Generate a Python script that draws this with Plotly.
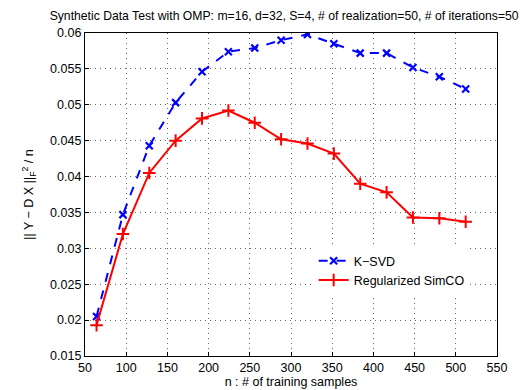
import plotly.graph_objects as go

n_samples = [64, 96, 128, 160, 192, 224, 256, 288, 320, 352, 384, 416, 448, 480, 512]
ksvd = [0.0205, 0.0347, 0.0443, 0.0503, 0.0546, 0.0574, 0.0579, 0.0590, 0.0598,
        0.0585, 0.0572, 0.0572, 0.0552, 0.0539, 0.0522]
simco = [0.0193, 0.0320, 0.0405, 0.0450, 0.0481, 0.0492, 0.0475, 0.0452, 0.0446,
         0.0432, 0.0390, 0.0378, 0.0343, 0.0342, 0.0337]
x_ticks = [50, 100, 150, 200, 250, 300, 350, 400, 450, 500, 550]
y_ticks = [0.015, 0.02, 0.025, 0.03, 0.035, 0.04, 0.045, 0.05, 0.055, 0.06]
y_ticktext = ["0.015", "0.02", "0.025", "0.03", "0.035", "0.04", "0.045", "0.05", "0.055", "0.06"]

FS = 12.5

fig = go.Figure()
fig.add_trace(go.Scatter(
    x=n_samples, y=ksvd, name="K\u2212SVD", mode="lines+markers",
    line=dict(color="#0000ff", width=2, dash="dash"),
    marker=dict(symbol="x-thin", size=7, line=dict(color="#0000ff", width=2.2)),
))
fig.add_trace(go.Scatter(
    x=n_samples, y=simco, name="Regularized SimCO", mode="lines+markers",
    line=dict(color="#ff0000", width=2),
    marker=dict(symbol="cross-thin", size=9, line=dict(color="#ff0000", width=2)),
))

axis_common = dict(
    showline=True, linecolor="black", linewidth=1.2, mirror=True,
    ticks="inside", ticklen=4, tickcolor="black",
    showgrid=True, gridcolor="#666666", griddash="1px,4px", gridwidth=1,
    zeroline=False, tickfont=dict(size=FS, color="black"),
)
fig.update_xaxes(range=[50, 550], tickvals=x_ticks,
                 title=dict(text="n : # of training samples", font=dict(size=FS, color="black"), standoff=2),
                 **axis_common)
fig.update_yaxes(range=[0.015, 0.06], tickvals=y_ticks, ticktext=y_ticktext,
                 title=dict(text="|| Y \u2212 D X ||<sub>F</sub><sup>2</sup> / n", font=dict(size=FS, color="black"), standoff=13),
                 **axis_common)

fig.update_layout(
    width=531, height=390,
    margin=dict(l=77, r=42, t=25, b=38),
    paper_bgcolor="white", plot_bgcolor="white",
    font=dict(family="Liberation Sans, Arial, sans-serif", size=FS, color="black"),
    title=dict(text="Synthetic Data Test with OMP: m=16, d=32, S=4, # of realization=50, # of iterations=50",
               xref="container", x=0.52, xanchor="center", y=0.99, yanchor="top",
               font=dict(size=12.2, color="black")),
    showlegend=True,
    legend=dict(x=0.555, y=0.34, xanchor="left", yanchor="top", bgcolor="white",
                borderwidth=0, font=dict(size=FS, color="black"), tracegroupgap=0),
)

fig.write_html("out.html")
